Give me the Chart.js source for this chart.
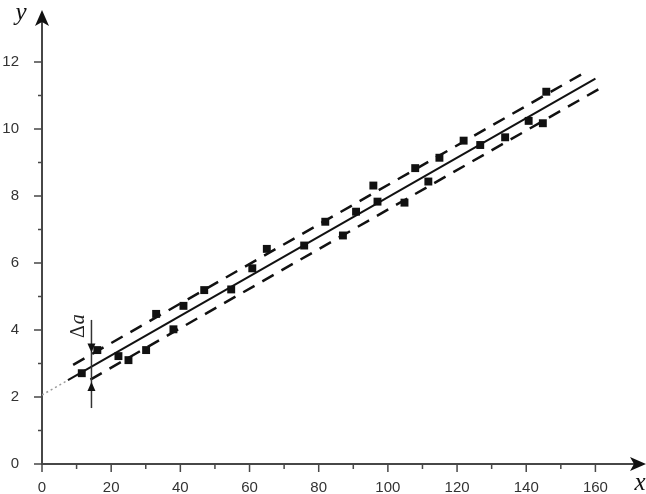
<!DOCTYPE html>
<html>
<head>
<meta charset="utf-8">
<script src="https://cdn.jsdelivr.net/npm/chart.js@4/dist/chart.umd.min.js"></script>
<style>
  html, body { margin: 0; padding: 0; background: #fff; }
  #wrap { width: 646px; height: 494px; }
</style>
</head>
<body>
<div id="wrap"><canvas id="chart" width="646" height="494"></canvas></div>
<script>
// ================= DATA =================
const pointX = [11.5, 16.0, 22.1, 25.0, 30.1, 33.0, 38.0, 40.9, 46.9, 54.7,
                60.8, 65.0, 75.8, 81.9, 87.0, 90.8, 95.8, 97.0, 104.8, 107.9,
                111.7, 114.9, 121.9, 126.7, 133.9, 140.7, 144.8, 145.8];
const pointY = [2.71, 3.40, 3.22, 3.10, 3.40, 4.48, 4.02, 4.72, 5.19, 5.21,
                5.84, 6.42, 6.52, 7.23, 6.82, 7.53, 8.31, 7.83, 7.80, 8.83,
                8.43, 9.14, 9.65, 9.52, 9.75, 10.24, 10.17, 11.11];

// fitted line, its extension to x = 0, and the two boundary lines
const fitX = [7.5, 160];
const fitY = [2.5, 11.5];
const extX = [0, 7.5];
const extY = [2.06, 2.5];
const upperX = [9, 158];
const upperY = [2.96, 11.75];
const lowerX = [14, 162];
const lowerY = [2.52, 11.25];

// axes
const xTicks = [0, 10, 20, 30, 40, 50, 60, 70, 80, 90, 100, 110, 120, 130, 140, 150, 160];
const yTicks = [0, 1, 2, 3, 4, 5, 6, 7, 8, 9, 10, 11, 12];
const xLabelStep = 20;
const yLabelStep = 2;

// Δa marker: x position, vertical extent, arrow tips
const deltaX = 14.3;
const deltaSpan = [1.67, 4.3];
const deltaTips = [3.33, 2.45];

const toPoints = (xs, ys) => xs.map((x, i) => ({ x: x, y: ys[i] }));

// ================= DECORATIONS =================
const axisColor = "#474747";

const decorPlugin = {
  id: "decor",
  afterDraw(chart) {
    const ctx = chart.ctx;
    const xs = chart.scales.x;
    const ys = chart.scales.y;
    const area = chart.chartArea;
    const x0 = xs.getPixelForValue(0);
    const y0 = ys.getPixelForValue(0);

    ctx.save();
    ctx.strokeStyle = axisColor;
    ctx.fillStyle = "#111";
    ctx.lineWidth = 1.5;

    // tick marks
    ctx.beginPath();
    xTicks.forEach(v => {
      const px = xs.getPixelForValue(v);
      const len = v % xLabelStep === 0 ? 8 : 5;
      ctx.moveTo(px, y0);
      ctx.lineTo(px, y0 + len);
    });
    yTicks.forEach(v => {
      const py = ys.getPixelForValue(v);
      const len = v % yLabelStep === 0 ? 8 : 4;
      ctx.moveTo(x0, py);
      ctx.lineTo(x0 - len, py);
    });
    ctx.stroke();

    // axis extensions + arrows
    ctx.lineWidth = 2;
    ctx.beginPath();
    ctx.moveTo(area.right, y0);
    ctx.lineTo(636, y0);
    ctx.stroke();

    ctx.beginPath();
    ctx.moveTo(x0, area.top - 5);
    ctx.lineTo(x0 - 7, area.top + 11);
    ctx.lineTo(x0, area.top + 7);
    ctx.lineTo(x0 + 7, area.top + 11);
    ctx.closePath();
    ctx.fill();

    ctx.beginPath();
    ctx.moveTo(646, y0);
    ctx.lineTo(630, y0 - 7);
    ctx.lineTo(634, y0);
    ctx.lineTo(630, y0 + 7);
    ctx.closePath();
    ctx.fill();

    // Δa marker
    const dx = xs.getPixelForValue(deltaX);
    ctx.strokeStyle = "#333";
    ctx.lineWidth = 1.5;
    ctx.beginPath();
    ctx.moveTo(dx, ys.getPixelForValue(deltaSpan[0]));
    ctx.lineTo(dx, ys.getPixelForValue(deltaSpan[1]));
    ctx.stroke();

    const tTop = ys.getPixelForValue(deltaTips[0]);
    ctx.beginPath();
    ctx.moveTo(dx, tTop);
    ctx.lineTo(dx - 4, tTop - 9);
    ctx.lineTo(dx + 4, tTop - 9);
    ctx.closePath();
    ctx.fill();

    const tBot = ys.getPixelForValue(deltaTips[1]);
    ctx.beginPath();
    ctx.moveTo(dx, tBot);
    ctx.lineTo(dx - 4, tBot + 9);
    ctx.lineTo(dx + 4, tBot + 9);
    ctx.closePath();
    ctx.fill();

    // Δa label, rotated
    ctx.save();
    ctx.translate(dx - 13, ys.getPixelForValue(4.1));
    ctx.rotate(-Math.PI / 2);
    ctx.fillStyle = "#222";
    ctx.textBaseline = "middle";
    ctx.font = "20px 'Liberation Serif'";
    const wD = ctx.measureText("\u0394").width;
    ctx.font = "italic 20px 'Liberation Serif'";
    const wA = ctx.measureText("a").width;
    const start = -(wD + wA) / 2;
    ctx.font = "20px 'Liberation Serif'";
    ctx.fillText("\u0394", start, 0);
    ctx.font = "italic 20px 'Liberation Serif'";
    ctx.fillText("a", start + wD + 1, 0);
    ctx.restore();

    // axis letters
    ctx.fillStyle = "#111";
    ctx.font = "italic 25px 'Liberation Serif'";
    ctx.textAlign = "center";
    ctx.textBaseline = "middle";
    ctx.fillText("y", 21, 13);
    ctx.fillText("x", 640, 483);

    ctx.restore();
  }
};

// ================= CHART =================
const ctx = document.getElementById("chart").getContext("2d");

new Chart(ctx, {
  type: "scatter",
  data: {
    datasets: [
      {
        data: toPoints(extX, extY),
        showLine: true,
        borderColor: "#9a9a9a",
        borderWidth: 1.5,
        borderDash: [2, 3],
        pointRadius: 0
      },
      {
        data: toPoints(fitX, fitY),
        showLine: true,
        borderColor: "#111",
        borderWidth: 2,
        pointRadius: 0
      },
      {
        data: toPoints(upperX, upperY),
        showLine: true,
        borderColor: "#111",
        borderWidth: 2.5,
        borderDash: [13, 9],
        pointRadius: 0
      },
      {
        data: toPoints(lowerX, lowerY),
        showLine: true,
        borderColor: "#111",
        borderWidth: 2.5,
        borderDash: [13, 9],
        pointRadius: 0
      },
      {
        data: toPoints(pointX, pointY),
        pointStyle: "rect",
        pointRadius: 5.6,
        backgroundColor: "#111",
        borderColor: "#111",
        borderWidth: 0
      }
    ]
  },
  options: {
    responsive: false,
    animation: false,
    layout: { padding: { top: 15, right: 16, left: 0, bottom: 0 } },
    plugins: {
      legend: { display: false },
      tooltip: { enabled: false }
    },
    scales: {
      x: {
        type: "linear",
        min: 0,
        max: 170,
        grid: { display: false },
        border: { color: axisColor, width: 2 },
        afterBuildTicks: s => { s.ticks = xTicks.map(v => ({ value: v })); },
        afterFit: s => { s.height = 30; s.paddingLeft = 0; s.paddingRight = 0; },
        ticks: {
          padding: 7,
          autoSkip: false,
          maxRotation: 0,
          color: "#333",
          font: { family: "'Liberation Sans'", size: 15 },
          callback: v => (v % xLabelStep === 0 ? v : "")
        }
      },
      y: {
        type: "linear",
        min: 0,
        max: 13.4,
        grid: { display: false },
        border: { color: axisColor, width: 2 },
        afterBuildTicks: s => { s.ticks = yTicks.map(v => ({ value: v })); },
        afterFit: s => { s.width = 42; s.paddingTop = 0; s.paddingBottom = 0; },
        ticks: {
          padding: 15,
          autoSkip: false,
          color: "#333",
          font: { family: "'Liberation Sans'", size: 15 },
          callback: v => (v % yLabelStep === 0 ? v : "")
        }
      }
    }
  },
  plugins: [decorPlugin]
});
</script>
</body>
</html>
